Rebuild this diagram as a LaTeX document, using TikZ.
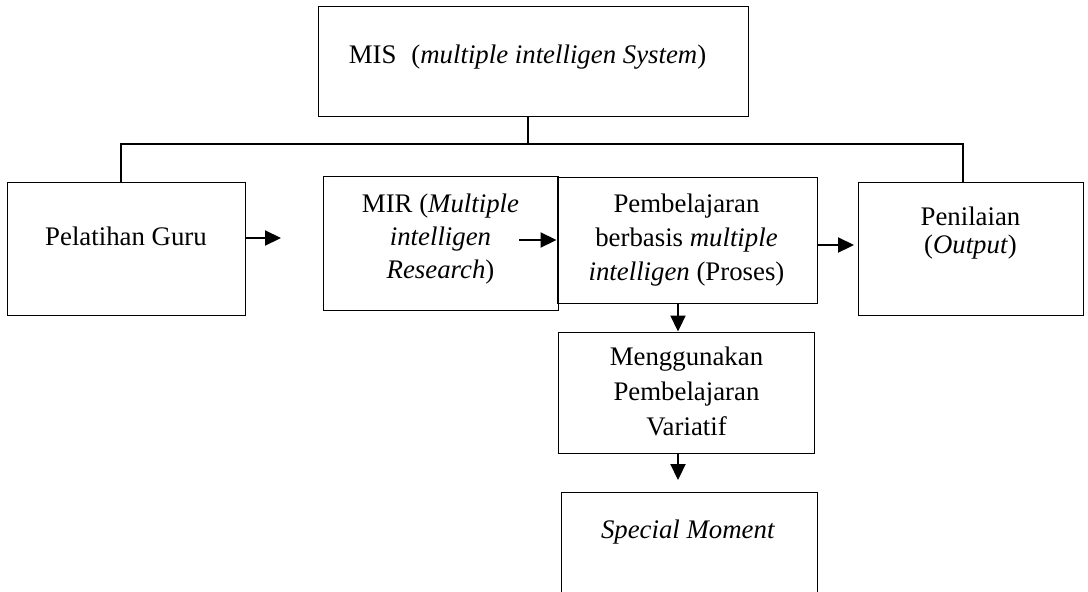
\documentclass[tikz,border=0pt]{standalone}
\usepackage{fontspec}
\setmainfont{Liberation Serif}
\usetikzlibrary{arrows.meta}
% #1 half x-shift, #2 raise of first baseline above centre, #3 baselineskip, #4 text
\newcommand{\bt}[4]{\makebox[0pt]{\hspace*{#1}\hspace*{#1}\raisebox{#2}[0pt][0pt]{\fontsize{26.8}{#3}\selectfont\begin{tabular}[t]{@{}c@{}}#4\end{tabular}}}}
\begin{document}
\begin{tikzpicture}[x=1pt,y=-1pt,
  box/.style={draw, line width=1pt, rectangle, inner sep=0pt},
  conn/.style={line width=1.6pt},
  arr/.style={line width=2.2pt, -{Triangle[length=16pt,width=15pt]}}]
\useasboundingbox (0,0) rectangle (1088,592);
\fill[white] (0,0) rectangle (1088,592);
\clip (0,0) rectangle (1088,592);

\node[box, minimum width=430pt, minimum height=110pt] (mis) at (533,61)
  {\bt{-5.5pt}{-2pt}{34pt}{MIS\hspace{15pt}(\textit{multiple intelligen System})}};
\node[box, minimum width=238pt, minimum height=133pt] (pg) at (126,248.5)
  {\bt{0pt}{3.5pt}{34pt}{Pelatihan Guru}};
\node[box, minimum width=235pt, minimum height=134pt] (mir) at (440.5,243)
  {\bt{0pt}{31pt}{33pt}{MIR (\textit{Multiple}\\\textit{intelligen}\\\textit{Research})}};
\node[box, minimum width=260pt, minimum height=126pt] (pb) at (687,240)
  {\bt{-0.5pt}{28pt}{34pt}{Pembelajaran\\berbasis \textit{multiple}\\\textit{intelligen} (Proses)}};
\node[box, minimum width=225pt, minimum height=133pt] (pn) at (970.5,248.5)
  {\bt{0pt}{23.5pt}{28pt}{Penilaian\\(\textit{Output})}};
\node[box, minimum width=256pt, minimum height=121pt] (mg) at (686,392.5)
  {\bt{0.5pt}{27.5pt}{35pt}{Menggunakan\\Pembelajaran\\Variatif}};
\node[box, minimum width=256pt, minimum height=108pt] (sm) at (689,546)
  {\bt{-1pt}{8pt}{34pt}{\textit{Special Moment}}};

% tree connectors
\coordinate (tr) at (528,144);
\coordinate (hl) at (121,144);
\coordinate (hr) at (963,144);
\draw[conn] (mis.south -| tr) -- (tr);
\draw[conn] (pg.north -| hl) -- (hl) -- (hr) -- (pn.north -| hr);

% arrows
\coordinate (e1) at (281,238);
\draw[arr] (pg.east |- e1) -- (e1);
\coordinate (s2) at (519,240);
\draw[arr] (s2) -- (s2 -| pb.west);
\coordinate (e3) at (854,245);
\draw[arr] (pb.east |- e3) -- (e3);
\coordinate (ax) at (678,0);
\draw[arr] (pb.south -| ax) -- (mg.north -| ax);
\coordinate (e5) at (678,480);
\draw[arr] (mg.south -| e5) -- (e5);
\end{tikzpicture}
\end{document}
